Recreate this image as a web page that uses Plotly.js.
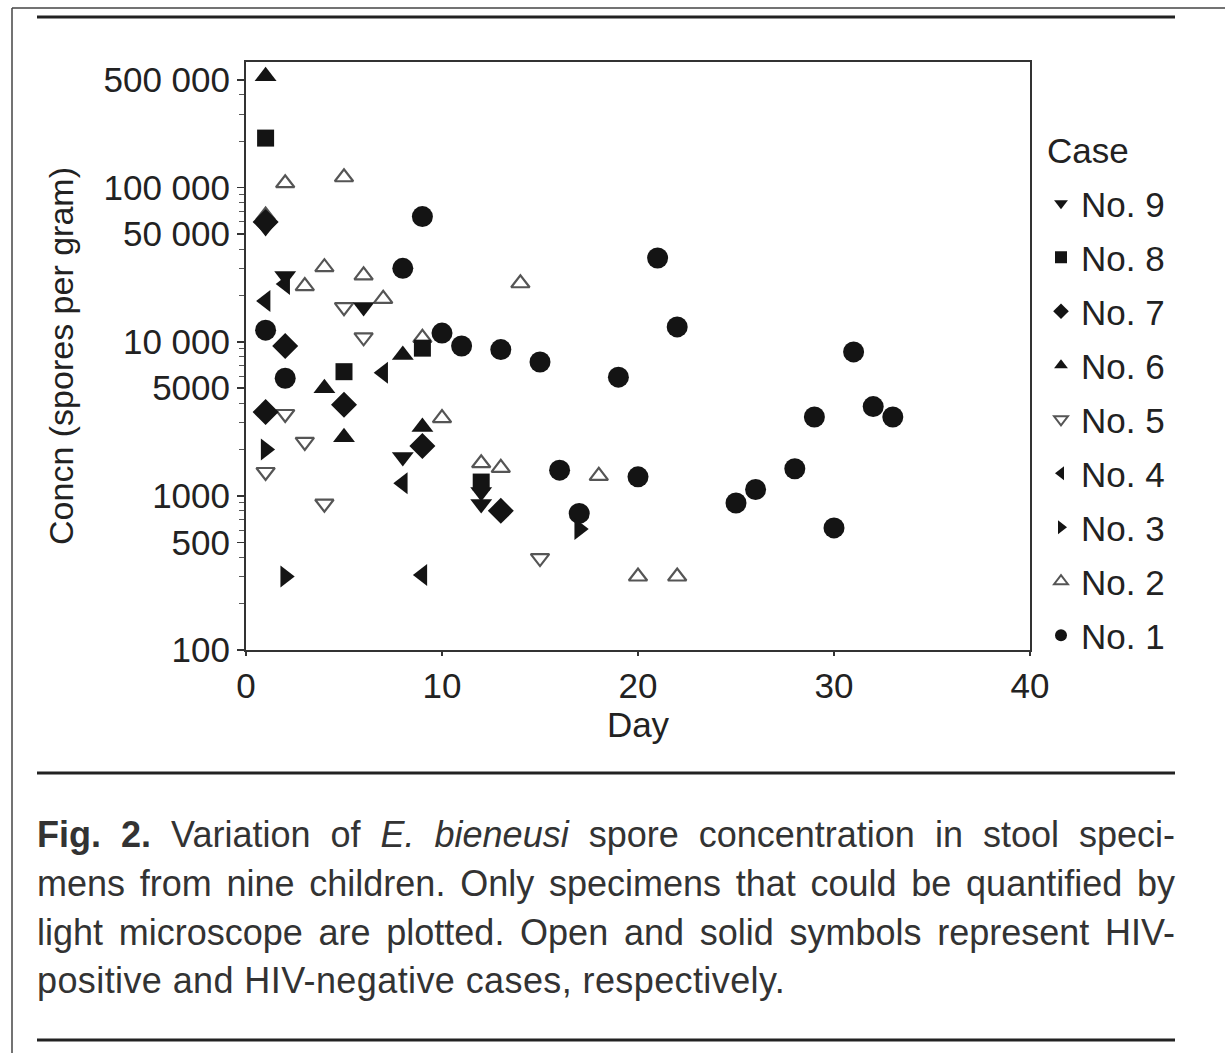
<!DOCTYPE html>
<html>
<head>
<meta charset="utf-8">
<script src="https://cdn.plot.ly/plotly-3.0.1.min.js"></script>
<style>
  html, body { margin: 0; padding: 0; background: #fff; }
  #wrap { position: relative; width: 1225px; height: 1053px; overflow: hidden; }
  #chart { position: absolute; left: 0; top: 0; width: 1225px; height: 1053px; }
  .cap { position: absolute; left: 37px; width: 1138px; font-family: "Liberation Sans", Arial, sans-serif;
         font-size: 36px; color: #333; line-height: 48px; white-space: nowrap; }
  .just { text-align: justify; text-align-last: justify; }
</style>
</head>
<body>
<div id="wrap">
  <div id="chart"></div>
  <div class="cap just" style="top:811px;"><b>Fig. 2.</b> Variation of <i>E. bieneusi</i> spore concentration in stool speci-</div>
  <div class="cap just" style="top:860px;">mens from nine children. Only specimens that could be quantified by</div>
  <div class="cap just" style="top:909px;">light microscope are plotted. Open and solid symbols represent HIV-</div>
  <div class="cap" style="top:957px; letter-spacing:0.4px;">positive and HIV-negative cases, respectively.</div>
</div>
<script>
// ---- data (day, spores per gram) ----
const case1Days = [1, 2, 8, 9, 10, 11, 13, 15, 16, 17, 19, 20, 21, 22, 25, 26, 28, 29, 30, 31, 32, 33];
const case1Conc = [11900, 5800, 30000, 65000, 11400, 9400, 8900, 7400, 1470, 770, 5900, 1330, 35000, 12500, 900, 1100, 1500, 3250, 620, 8600, 3800, 3250];

const case2Days = [1, 2, 3, 4, 5, 6, 7, 9, 10, 12, 13, 14, 18, 20, 22];
const case2Conc = [66000, 107000, 23000, 30500, 117000, 27000, 19000, 10600, 3200, 1630, 1520, 24000, 1350, 300, 300];

const case3Days = [1, 2, 17];
const case3Conc = [2000, 300, 610];

const case4Days = [1, 2, 7, 8, 9];
const case4Conc = [18400, 23700, 6300, 1210, 307];

const case5Days = [1, 2, 3, 4, 5, 6, 15];
const case5Conc = [1430, 3400, 2240, 890, 16800, 10700, 395];

const case6Days = [1, 4, 5, 8, 9];
const case6Conc = [530000, 5000, 2400, 8200, 2800];

const case7Days = [1, 1, 2, 5, 9, 13];
const case7Conc = [60000, 3500, 9400, 3900, 2110, 800];

const case8Days = [1, 5, 9, 12];
const case8Conc = [210000, 6400, 9100, 1230];

const case9Days = [1, 2, 6, 8, 12, 12];
const case9Conc = [55600, 26700, 16800, 1790, 1060, 885];

const caseNames = ["No. 1", "No. 2", "No. 3", "No. 4", "No. 5", "No. 6", "No. 7", "No. 8", "No. 9"];
const legendTitle = "Case";
const yTickVals = [100, 500, 1000, 5000, 10000, 50000, 100000, 500000];
const yTickText = ["100", "500", "1000", "5000", "10 000", "50 000", "100 000", "500 000"];
const yMinorVals = [200, 300, 400, 600, 700, 800, 900, 2000, 3000, 4000, 6000, 7000, 8000, 9000,
                    20000, 30000, 40000, 60000, 70000, 80000, 90000, 200000, 300000, 400000];
const xTickVals = [0, 10, 20, 30, 40];

// ---- styling ----
const FONT = '"Liberation Sans", Arial, Helvetica, sans-serif';
const INK = '#141414';
const OPEN = '#555555';
const TXT = '#222222';

const series = [
  [case1Days, case1Conc, 'circle', 21, false],
  [case2Days, case2Conc, 'triangle-up-open', 16, true],
  [case3Days, case3Conc, 'triangle-right', 19, false],
  [case4Days, case4Conc, 'triangle-left', 19, false],
  [case5Days, case5Conc, 'triangle-down-open', 16, true],
  [case6Days, case6Conc, 'triangle-up', 19, false],
  [case7Days, case7Conc, 'diamond', 20, false],
  [case8Days, case8Conc, 'square', 17, false],
  [case9Days, case9Conc, 'triangle-down', 19, false]
];

const traces = series.map((s, i) => ({
  type: 'scatter',
  mode: 'markers',
  name: caseNames[i],
  legendgroup: 'g' + i,
  legendrank: 9 - i,
  x: s[0],
  y: s[1],
  marker: {
    symbol: s[2],
    size: s[3],
    color: s[4] ? OPEN : INK,
    line: { color: s[4] ? OPEN : INK, width: s[4] ? 2.2 : 0 }
  },
  cliponaxis: false
}));

// helpers for page decoration in paper coordinates
const L = 246, R = 1030, T = 62, B = 650;
const px = v => (v - L) / (R - L);
const py = v => (B - v) / (B - T);
function hline(y, x0, x1, w, c) {
  return { type: 'line', xref: 'paper', yref: 'paper', x0: px(x0), x1: px(x1), y0: py(y), y1: py(y),
           line: { color: c, width: w } };
}
function vline(x, y0, y1, w, c) {
  return { type: 'line', xref: 'paper', yref: 'paper', x0: px(x), x1: px(x), y0: py(y0), y1: py(y1),
           line: { color: c, width: w } };
}

const layout = {
  width: 1225,
  height: 1053,
  margin: { l: L, r: 1225 - R, t: T, b: 1053 - B, pad: 0 },
  paper_bgcolor: '#ffffff',
  plot_bgcolor: '#ffffff',
  font: { family: FONT, size: 35, color: TXT },
  showlegend: true,
  xaxis: {
    range: [0, 40],
    tickvals: xTickVals,
    ticktext: xTickVals.map(String),
    ticks: 'outside',
    ticklen: 4,
    tickwidth: 1.5,
    tickcolor: '#333',
    showline: true,
    linecolor: '#333',
    linewidth: 2,
    mirror: true,
    showgrid: false,
    zeroline: false,
    tickfont: { family: FONT, size: 35, color: TXT },
    title: { text: 'Day', font: { family: FONT, size: 35, color: TXT }, standoff: 0 }
  },
  yaxis: {
    type: 'log',
    range: [2, 5.816],
    tickvals: yTickVals,
    ticktext: yTickText,
    ticks: 'outside',
    ticklen: 7,
    tickwidth: 1.5,
    tickcolor: '#333',
    minor: { tickmode: 'array', tickvals: yMinorVals, ticks: 'outside', ticklen: 5, tickwidth: 1, tickcolor: '#555', showgrid: false },
    showline: true,
    linecolor: '#333',
    linewidth: 2,
    mirror: true,
    showgrid: false,
    zeroline: false,
    tickfont: { family: FONT, size: 35, color: TXT },
    title: { text: 'Concn (spores per gram)', font: { family: FONT, size: 34, color: TXT }, standoff: 20 }
  },
  legend: {
    x: px(1041),
    xanchor: 'left',
    y: py(174),
    yanchor: 'top',
    traceorder: 'grouped',
    itemsizing: 'constant',
    tracegroupgap: 5.5,
    font: { family: FONT, size: 35, color: TXT },
    bgcolor: 'rgba(0,0,0,0)',
    borderwidth: 0
  },
  annotations: [
    { xref: 'paper', yref: 'paper', x: px(1045), y: py(150), xanchor: 'left', yanchor: 'middle',
      text: legendTitle, showarrow: false, font: { family: FONT, size: 35, color: TXT } }
  ],
  shapes: [
    hline(8, 12, 1225, 1.5, '#444'),
    vline(12, 8, 1053, 1.5, '#444'),
    hline(17, 37, 1175, 3, '#222'),
    hline(773, 37, 1175, 3, '#222'),
    hline(1040, 37, 1175, 3, '#222')
  ]
};

Plotly.newPlot('chart', traces, layout, { displayModeBar: false, staticPlot: true });
</script>
</body>
</html>
